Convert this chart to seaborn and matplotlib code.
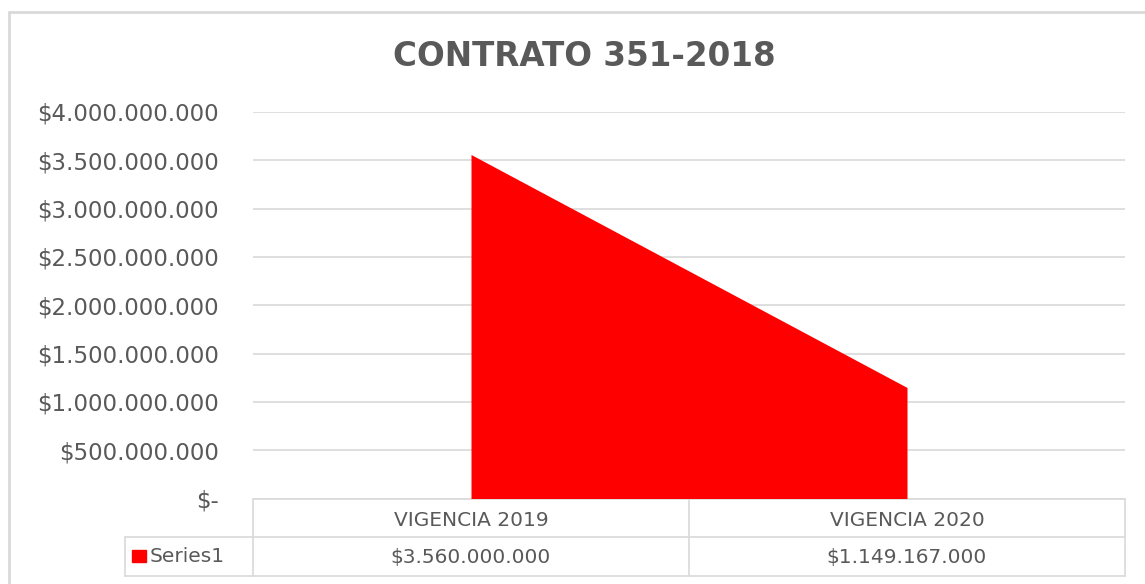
import matplotlib
matplotlib.use('Agg')
import matplotlib.pyplot as plt
import matplotlib.transforms as mtransforms
from matplotlib.ticker import FuncFormatter
import numpy as np
import pandas as pd
import seaborn as sns

# datos del grafico
categorias = ['VIGENCIA 2019', 'VIGENCIA 2020']
valores = [3560000000, 1149167000]
serie = 'Series1'
titulo = 'CONTRATO 351-2018'
y_ticks = np.arange(0, 4000000001, 500000000)

df = pd.DataFrame({'vigencia': categorias, 'valor': valores})
df['pos'] = np.arange(len(df))

sns.set_theme(style='white')
plt.rcParams['font.family'] = ['DejaVu Sans']

W, H = 1145, 584
fig = plt.figure(figsize=(W / 100, H / 100), dpi=100)
ax = fig.add_axes([253 / W, 1 - 498.5 / H, (1125 - 253) / W, (498.5 - 112) / H])

gris_txt = '#595959'
gris_lin = '#D9D9D9'


def pesos(v, pos=None):
    if v == 0:
        return '$-'
    return '$' + f'{int(round(v)):,}'.replace(',', '.')


ax.fill_between(df['pos'], df['valor'], 0, color='#FF0000', linewidth=0, zorder=3)
sns.lineplot(data=df, x='pos', y='valor', ax=ax, color='#FF0000', linewidth=0, zorder=3)

ax.set_xlim(-0.5, len(df) - 0.5)
ax.set_ylim(0, y_ticks[-1])
ax.set_yticks(y_ticks)
ax.yaxis.set_major_formatter(FuncFormatter(pesos))
ax.tick_params(axis='y', labelsize=16.5, labelcolor=gris_txt, length=0, pad=24.5)
ax.set_xticks([])
ax.set_xlabel('')
ax.set_ylabel('')
ax.grid(axis='y', color=gris_lin, linewidth=1.2, zorder=0)
for s in ax.spines.values():
    s.set_visible(False)

fig.text(584 / W, 1 - 57 / H, titulo, ha='center', va='center', fontsize=23.5,
         fontweight='bold', color=gris_txt)

# tabla de datos debajo del eje
tr = mtransforms.blended_transform_factory(ax.transData, ax.transAxes)
alto = 38.5 / (498.5 - 112)
filas = [0, -alto, -2 * alto]
for y in filas:
    ax.plot([-0.5, len(df) - 0.5], [y, y], transform=tr, color=gris_lin, lw=1.2, clip_on=False)
for x in np.arange(len(df) + 1) - 0.5:
    ax.plot([x, x], [0, -2 * alto], transform=tr, color=gris_lin, lw=1.2, clip_on=False)

for i, row in df.iterrows():
    ax.text(row['pos'], -alto / 2 - 0.006, row['vigencia'], transform=tr, ha='center', va='center',
            fontsize=14.5, color=gris_txt)
    ax.text(row['pos'], -1.5 * alto - 0.004, pesos(row['valor']), transform=tr, ha='center', va='center',
            fontsize=14.5, color=gris_txt)

# celda de la leyenda
x0 = 125 / W
x1 = 253 / W
yb = 1 - 576 / H
yt = 1 - 537 / H
fig.add_artist(plt.Line2D([x0, x1], [yt, yt], color=gris_lin, lw=1.2))
fig.add_artist(plt.Line2D([x0, x1], [yb, yb], color=gris_lin, lw=1.2))
fig.add_artist(plt.Line2D([x0, x0], [yb, yt], color=gris_lin, lw=1.2))
fig.add_artist(plt.Rectangle((132 / W, 1 - 562 / H), 14 / W, 12 / H, color='#FF0000'))
fig.text(150 / W, 1 - 557 / H, serie, ha='left', va='center', fontsize=14.5, color=gris_txt)

# borde del area del grafico
fig.add_artist(plt.Line2D([9 / W, 9 / W], [0, 1 - 12 / H], color=gris_lin, lw=2))
fig.add_artist(plt.Line2D([9 / W, 1], [1 - 12 / H, 1 - 12 / H], color=gris_lin, lw=2))

fig.savefig('out.png', dpi=100, facecolor='white')
